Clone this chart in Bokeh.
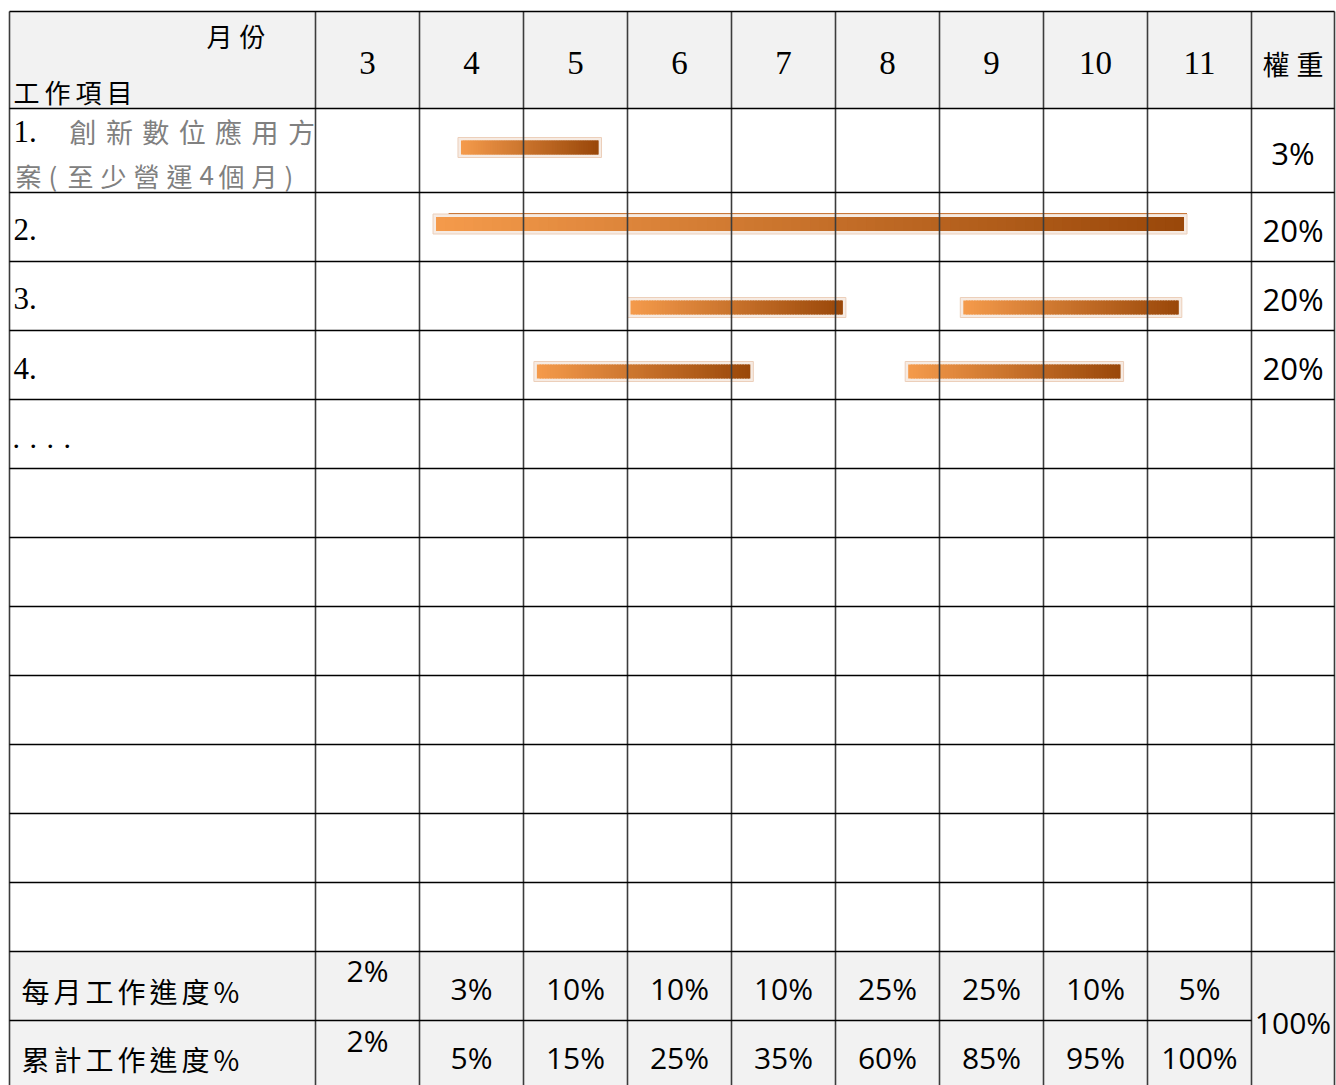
import numpy as np
from bokeh.plotting import figure
from bokeh.models import Range1d
from bokeh.core.properties import value
from bokeh.embed import file_html
from bokeh.resources import INLINE

# ---------------- data ----------------
months = [3, 4, 5, 6, 7, 8, 9, 10, 11]
month_labels = ["3", "4", "5", "6", "7", "8", "9", "10", "11"]
monthly_pct = [2, 3, 10, 10, 10, 25, 25, 10, 5]
cumulative_pct = [2, 5, 15, 25, 35, 60, 85, 95, 100]
total_pct = 100
task_labels = ["2.", "3.", "4."]
task_weights = [3, 20, 20, 20]
bar_task = [1, 2, 3, 3, 4, 4]
bar_start = [4.37, 4.13, 6.0, 9.2, 5.1, 8.67]
bar_end = [5.75, 11.38, 8.1, 11.33, 7.21, 10.77]

header_month = "月份"
header_item = "工作項目"
header_weight = "權重"
task1_line1 = "創新數位應用方"
task1_line2 = "案(至少營運4個月)"
row_monthly = "每月工作進度%"
row_cumulative = "累計工作進度%"

# ---------------- layout ----------------
PXM = 104.0          # pixels per month
X3 = 315.0           # px of month-3 column left edge
def X(px):
    return 3 + (px - X3) / PXM

W, H = 1336, 1085
ROW_EDGES = [11, 108, 192, 261, 330, 399, 468, 537, 606, 675, 744, 813, 882, 951, 1020, 1095]
LEFT = X(9)
RIGHT = X(1334)
WEIGHT_L = 12.0
BAR_Y = {1: 147, 2: 223.5, 3: 307, 4: 371}
TASK_Y = [229, 298, 368]
WEIGHT_Y = [152, 229, 298, 367]

CJK = "Noto Sans CJK TC"
SERIF = "Liberation Serif"
SANS = "Open Sans"

p = figure(width=W, height=H, output_backend="svg", toolbar_location=None,
           x_range=Range1d(X(0), X(W)), y_range=Range1d(H, 0),
           min_border=0, min_border_left=0, min_border_right=0,
           min_border_top=0, min_border_bottom=0)
p.axis.visible = False
p.grid.visible = False
p.outline_line_color = None
p.background_fill_color = "white"
p.border_fill_color = "white"

# backgrounds
p.quad(left=[LEFT, LEFT], right=[RIGHT, RIGHT],
       top=[ROW_EDGES[0], ROW_EDGES[13]], bottom=[ROW_EDGES[1], ROW_EDGES[15]],
       fill_color="#f2f2f2", line_color=None)

# gantt bars with gradient
c0 = np.array([245, 155, 76])
c1 = np.array([154, 72, 10])
inset = 3 / PXM
for t, s, e in zip(bar_task, bar_start, bar_end):
    yc = BAR_Y[t]
    p.quad(left=[s], right=[e], top=[yc - 10], bottom=[yc + 10],
           fill_color="#f6ebe3", line_color="#eccfba", line_width=1)
    n = 80
    edges = np.linspace(s + inset, e - inset, n + 1)
    cols = ["#%02x%02x%02x" % tuple(int(v) for v in (c0 + (c1 - c0) * (i + 0.5) / n)) for i in range(n)]
    rights = np.minimum(edges[1:] + 0.015, e - inset)
    p.quad(left=edges[:-1], right=rights, top=[yc - 7] * n, bottom=[yc + 7] * n,
           fill_color=cols, line_color=None)
    if t == 2:
        p.segment(x0=[s + 0.15], x1=[e], y0=[yc - 10.5], y1=[yc - 10.5],
                  line_color="#c9783a", line_width=1)

# grid lines
vx = [LEFT] + list(range(3, 13)) + [RIGHT]
p.segment(x0=vx, x1=vx, y0=[ROW_EDGES[0]] * len(vx), y1=[ROW_EDGES[-1]] * len(vx),
          line_color="#3c3c3c", line_width=1.6)
hy = [y for y in ROW_EDGES[:-1] if y != 1020]
p.segment(x0=[LEFT] * len(hy), x1=[RIGHT] * len(hy), y0=hy, y1=hy,
          line_color="#000000", line_width=1.6)
p.segment(x0=[LEFT], x1=[WEIGHT_L], y0=[1020], y1=[1020], line_color="#000000", line_width=1.6)


def put_chars(s, x_px, y, size, color, font, adv_cjk, adv_ascii):
    xs = []
    cur = x_px
    for ch in s:
        xs.append(X(cur))
        cur += adv_ascii if ord(ch) < 128 else adv_cjk
    p.text(x=xs, y=[y] * len(s), text=list(s), text_font=value(font),
           text_font_size=f"{size}px", text_color=color,
           text_align="left", text_baseline="middle")


def put_text(xs, ys, texts, size, font, color="black", align="center"):
    p.text(x=xs, y=ys, text=texts, text_font=value(font), text_font_size=f"{size}px",
           text_color=color, text_align=align, text_baseline="middle")

# header
put_chars(header_month, 206, 35, 26, "black", CJK, 33, 17)
put_chars(header_item, 13, 91, 26, "black", CJK, 31, 17)
put_text([m + 0.5 for m in months], [62] * len(months), month_labels, 33, SERIF)
put_chars(header_weight, 1262, 63, 27, "black", CJK, 34, 17)

# task labels
put_text([X(13)], [131], ["1."], 31, SERIF, align="left")
put_chars(task1_line1, 69, 131, 27, "#808080", CJK, 36.4, 17)
put_chars(task1_line2, 15, 175, 26, "#808080", CJK, 33, 19)
put_text([X(13)] * len(task_labels), TASK_Y, task_labels, 31, SERIF, align="left")
put_chars("....", 12, 438, 30, "black", SERIF, 17, 17)

# weights
wx = (WEIGHT_L + RIGHT) / 2
put_text([wx] * len(task_weights), WEIGHT_Y, [f"{w}%" for w in task_weights], 31, SANS)
put_text([wx], [1022], [f"{total_pct}%"], 30, SANS)

# bottom rows
put_chars(row_monthly, 21, 990, 28, "black", CJK, 32, 30)
put_chars(row_cumulative, 21, 1058, 28, "black", CJK, 32, 30)
mx = [m + 0.5 for m in months]
my = [970] + [988] * (len(months) - 1)
cy = [1040] + [1057] * (len(months) - 1)
put_text(mx, my, [f"{v}%" for v in monthly_pct], 30, SANS)
put_text(mx, cy, [f"{v}%" for v in cumulative_pct], 30, SANS)

open("out.html", "w").write(file_html(p, INLINE))
